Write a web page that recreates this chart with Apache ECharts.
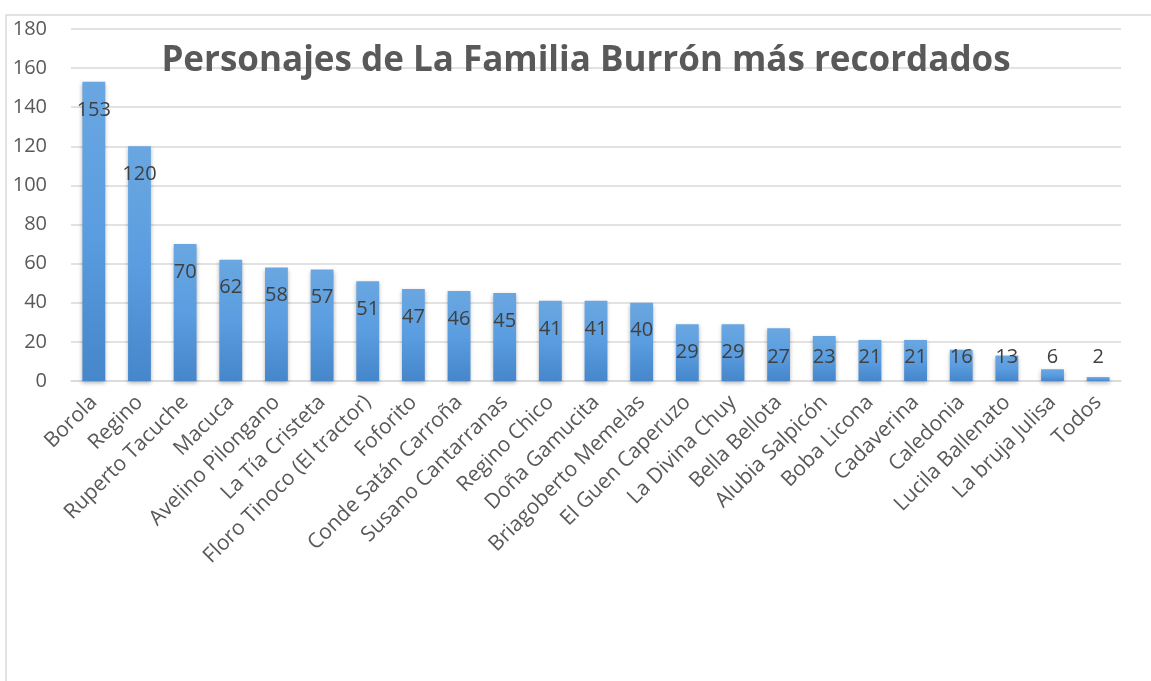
<!DOCTYPE html>
<html>
<head>
<meta charset="utf-8">
<script src="https://cdn.jsdelivr.net/npm/echarts@6/dist/echarts.min.js"></script>
<style>
	html, body { margin: 0; padding: 0; background: #fff; }
	#chart { width: 1151px; height: 681px; }
</style>
</head>
<body>
<div id="chart"></div>
<script>
	"use strict";

	var personajes = ["Borola", "Regino", "Ruperto Tacuche", "Macuca", "Avelino Pilongano", "La Tía Cristeta",
		"Floro Tinoco (El tractor)", "Foforito", "Conde Satán Carroña", "Susano Cantarranas", "Regino Chico",
		"Doña Gamucita", "Briagoberto Memelas", "El Guen Caperuzo", "La Divina Chuy", "Bella Bellota",
		"Alubia Salpicón", "Boba Licona", "Cadaverina", "Caledonia", "Lucila Ballenato", "La bruja Julisa", "Todos"];
	var menciones = [153, 120, 70, 62, 58, 57, 51, 47, 46, 45, 41, 41, 40, 29, 29, 27, 23, 21, 21, 16, 13, 6, 2];
	var yTicks = { min: 0, max: 180, interval: 20 };

	var fuente = 'Open Sans';

	// short bars: label sits near the floor instead of under the top
	var barData = menciones.map(function(v) {
		if (v >= 28) return v;
		return {
			value: v,
			label: { position: 'insideBottom', distance: 14 }
		};
	});

	var chart = echarts.init(document.getElementById('chart'));
	var option = {
		animation: false,
		title: {
			text: 'Personajes de La Familia Burrón más recordados',
			left: 581,
			top: 39,
			textAlign: 'center',
			textStyle: {
				fontFamily: fuente,
				fontWeight: 'bold',
				fontSize: 35,
				color: '#595959'
			}
		},
		graphic: [{
			type: 'rect',
			shape: { x: 6, y: 15, width: 1200, height: 720 },
			style: { fill: 'none', stroke: '#d9d9d9', lineWidth: 1.5 },
			z: -1
		}],
		grid: {
			top: 29,
			left: 71,
			right: 30,
			bottom: 300
		},
		xAxis: {
			type: 'category',
			data: personajes,
			axisLine: { lineStyle: { color: '#d9d9d9', width: 1.5 } },
			axisTick: { show: false },
			axisLabel: {
				rotate: 45,
				margin: 18,
				interval: 0,
				fontFamily: fuente,
				fontSize: 21,
				color: '#595959'
			}
		},
		yAxis: {
			type: 'value',
			min: yTicks.min,
			max: yTicks.max,
			interval: yTicks.interval,
			axisLine: { show: false },
			axisTick: { show: false },
			splitLine: { lineStyle: { color: '#d9d9d9', width: 1.5 } },
			axisLabel: {
				margin: 24,
				fontFamily: fuente,
				fontSize: 20,
				color: '#595959'
			}
		},
		series: [{
			type: 'bar',
			data: barData,
			barWidth: '50%',
			itemStyle: {
				color: new echarts.graphic.LinearGradient(0, 0, 0, 1, [
					{ offset: 0, color: '#6aa7e1' },
					{ offset: 0.5, color: '#5a9de0' },
					{ offset: 1, color: '#4686cb' }
				]),
				shadowBlur: 4,
				shadowColor: 'rgba(0,0,0,0.3)',
				shadowOffsetY: 2
			},
			label: {
				show: true,
				position: 'insideTop',
				distance: 18,
				fontFamily: fuente,
				fontSize: 20,
				color: '#404040'
			}
		}]
	};
	chart.setOption(option);
</script>
</body>
</html>
